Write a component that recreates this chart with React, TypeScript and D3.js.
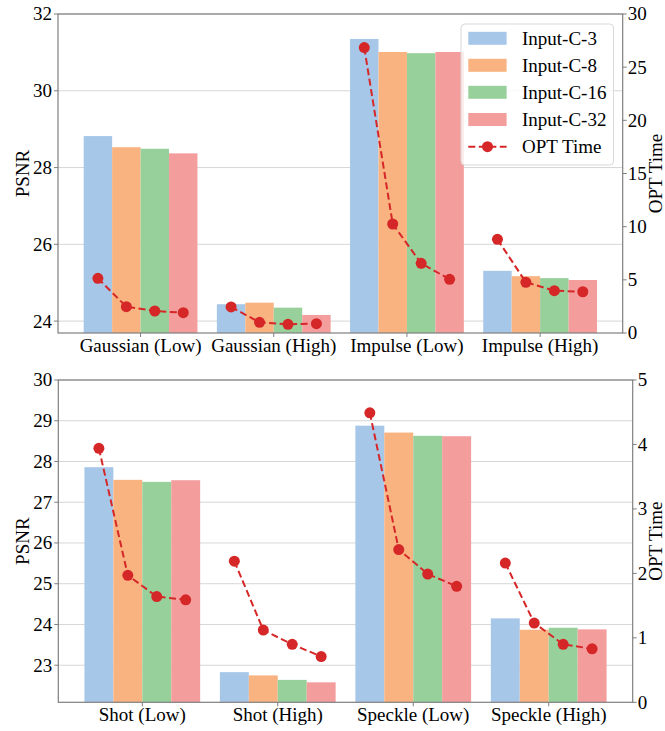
import React from "react";
import * as d3 from "d3";

const topCategories = ["Gaussian (Low)", "Gaussian (High)", "Impulse (Low)", "Impulse (High)"];
const bottomCategories = ["Shot (Low)", "Shot (High)", "Speckle (Low)", "Speckle (High)"];
const seriesNames = ["Input-C-3", "Input-C-8", "Input-C-16", "Input-C-32"];
const seriesColors = ["#a7c7e9", "#f9b381", "#98d09b", "#f49d9d"];

// PSNR per category, per series (C-3, C-8, C-16, C-32)
const topPSNR = [
  [28.82, 28.53, 28.49, 28.37],
  [24.44, 24.48, 24.35, 24.16],
  [31.35, 31.01, 30.98, 31.01],
  [25.31, 25.17, 25.12, 25.07],
];
const topTime = [
  [5.14, 2.47, 2.07, 1.91],
  [2.45, 1.0, 0.82, 0.88],
  [26.84, 10.25, 6.55, 5.05],
  [8.81, 4.77, 3.98, 3.88],
];
const bottomPSNR = [
  [27.86, 27.55, 27.5, 27.54],
  [22.83, 22.75, 22.64, 22.58],
  [28.88, 28.71, 28.63, 28.62],
  [24.15, 23.87, 23.92, 23.88],
];
const bottomTime = [
  [3.94, 1.97, 1.64, 1.59],
  [2.19, 1.12, 0.9, 0.71],
  [4.49, 2.37, 1.99, 1.8],
  [2.16, 1.23, 0.9, 0.83],
];
const topLeftTicks = [24, 26, 28, 30, 32];
const topRightTicks = [0, 5, 10, 15, 20, 25, 30];
const bottomLeftTicks = [23, 24, 25, 26, 27, 28, 29, 30];
const bottomRightTicks = [0, 1, 2, 3, 4, 5];

const FONT = "'Liberation Serif', 'DejaVu Serif', serif";
const FS = 19;
const BAR_W = 0.2136;
const LINE_COLOR = "#d62728";
const SPINE = "#7f7f7f";
const GRID = "#d6d6d6";

type PanelProps = {
  categories: string[];
  psnr: number[][];
  time: number[][];
  left: number;
  right: number;
  top: number;
  bottom: number;
  leftDomain: [number, number];
  rightDomain: [number, number];
  leftTicks: number[];
  rightTicks: number[];
  legend?: boolean;
};

function Panel(p: PanelProps) {
  const x = d3.scaleLinear().domain([-0.62, 3.62]).range([p.left, p.right]);
  const yL = d3.scaleLinear().domain(p.leftDomain).range([p.bottom, p.top]);
  const yR = d3.scaleLinear().domain(p.rightDomain).range([p.bottom, p.top]);
  const clipId = `clip-${p.top}`;
  const line = d3
    .line<[number, number]>()
    .x((d) => d[0])
    .y((d) => d[1]);
  const bw = x(BAR_W) - x(0);
  const midY = (p.top + p.bottom) / 2;
  return (
    <g>
      <defs>
        <clipPath id={clipId}>
          <rect x={p.left} y={p.top} width={p.right - p.left} height={p.bottom - p.top} />
        </clipPath>
      </defs>
      {/* grid */}
      {p.leftTicks.map((t) => (
        <line key={"g" + t} x1={p.left} x2={p.right} y1={yL(t)} y2={yL(t)} stroke={GRID} strokeWidth={1} />
      ))}
      {/* bars */}
      <g clipPath={`url(#${clipId})`}>
        {p.psnr.map((vals, ci) =>
          vals.map((v, si) => {
            const cx = x(ci + (si - 1.5) * BAR_W);
            return (
              <rect
                key={`b${ci}-${si}`}
                x={cx - bw / 2}
                y={yL(v)}
                width={bw}
                height={p.bottom - yL(v)}
                fill={seriesColors[si]}
              />
            );
          })
        )}
      </g>
      {/* time lines */}
      {p.time.map((vals, ci) => {
        const pts: [number, number][] = vals.map((v, si) => [x(ci + (si - 1.5) * BAR_W), yR(v)]);
        return (
          <g key={"l" + ci}>
            <path d={line(pts) || ""} fill="none" stroke={LINE_COLOR} strokeWidth={2} strokeDasharray="7,3.5" />
            {pts.map((pt, i) => (
              <circle key={i} cx={pt[0]} cy={pt[1]} r={5.5} fill={LINE_COLOR} />
            ))}
          </g>
        );
      })}
      {/* spines */}
      <rect x={p.left} y={p.top} width={p.right - p.left} height={p.bottom - p.top} fill="none" stroke={SPINE} strokeWidth={1.2} />
      {/* left ticks */}
      {p.leftTicks.map((t) => (
        <g key={"lt" + t}>
          <line x1={p.left - 4} x2={p.left} y1={yL(t)} y2={yL(t)} stroke={SPINE} strokeWidth={1} />
          <text x={p.left - 6} y={yL(t)} dy="0.34em" textAnchor="end" fontSize={FS} fontFamily={FONT} fill="#000">
            {t}
          </text>
        </g>
      ))}
      {/* right ticks */}
      {p.rightTicks.map((t) => (
        <g key={"rt" + t}>
          <line x1={p.right} x2={p.right + 4} y1={yR(t)} y2={yR(t)} stroke={SPINE} strokeWidth={1} />
          <text x={p.right + 5} y={yR(t)} dy="0.34em" textAnchor="start" fontSize={FS} fontFamily={FONT} fill="#000">
            {t}
          </text>
        </g>
      ))}
      {/* x ticks */}
      {p.categories.map((c, i) => (
        <g key={"xt" + c}>
          <line x1={x(i)} x2={x(i)} y1={p.bottom} y2={p.bottom + 4} stroke={SPINE} strokeWidth={1} />
          <text x={x(i)} y={p.bottom + 19} textAnchor="middle" fontSize={FS} fontFamily={FONT} fill="#000">
            {c}
          </text>
        </g>
      ))}
      {/* axis labels */}
      <text transform={`translate(29,${midY}) rotate(-90)`} textAnchor="middle" fontSize={FS} fontFamily={FONT} fill="#000">
        PSNR
      </text>
      <text transform={`translate(662,${midY}) rotate(-90)`} textAnchor="middle" fontSize={FS} fontFamily={FONT} fill="#000">
        OPT Time
      </text>
      {p.legend && <Legend />}
    </g>
  );
}

function Legend() {
  const lx = 461;
  const ly = 24;
  const rows = [38.3, 65.3, 92.3, 119.5];
  return (
    <g>
      <rect x={lx} y={ly} width={152.5} height={141} rx={4} fill="#fff" fillOpacity={0.8} stroke="#d9d9d9" strokeWidth={1} />
      {seriesNames.map((s, i) => (
        <g key={s}>
          <rect x={468.3} y={rows[i] - 6.5} width={38.3} height={13} fill={seriesColors[i]} />
          <text x={522} y={rows[i]} dy="0.34em" fontSize={FS} fontFamily={FONT} fill="#000">
            {s}
          </text>
        </g>
      ))}
      <line x1={468.3} x2={506.6} y1={146.7} y2={146.7} stroke={LINE_COLOR} strokeWidth={2} strokeDasharray="7,3.5" />
      <circle cx={487.5} cy={146.7} r={5.5} fill={LINE_COLOR} />
      <text x={522} y={146.7} dy="0.34em" fontSize={FS} fontFamily={FONT} fill="#000">
        OPT Time
      </text>
    </g>
  );
}

export default function App() {
  return (
    <svg width={665} height={731} style={{ position: "absolute", left: 0, top: 0, background: "#fff" }}>
      <rect x={0} y={0} width={665} height={731} fill="#fff" />
      <Panel
        categories={topCategories}
        psnr={topPSNR}
        time={topTime}
        left={58}
        right={622.7}
        top={14}
        bottom={333}
        leftDomain={[23.69, 32]}
        rightDomain={[0, 30]}
        leftTicks={topLeftTicks}
        rightTicks={topRightTicks}
        legend
      />
      <Panel
        categories={bottomCategories}
        psnr={bottomPSNR}
        time={bottomTime}
        left={58.3}
        right={632.7}
        top={380}
        bottom={702.3}
        leftDomain={[22.09, 30]}
        rightDomain={[0, 5]}
        leftTicks={bottomLeftTicks}
        rightTicks={bottomRightTicks}
      />
    </svg>
  );
}
